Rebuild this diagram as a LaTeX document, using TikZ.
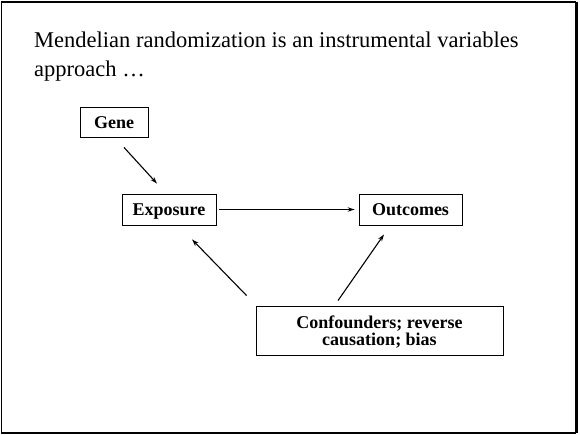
\documentclass[tikz,border=0pt]{standalone}
\usepackage{fontspec}
\setmainfont{Liberation Serif}
\usetikzlibrary{arrows.meta,positioning}
\begin{document}
\begin{tikzpicture}[x=1pt,y=-1pt,
  box/.style={draw=black,line width=0.9pt,inner sep=0pt,
    font=\fontsize{18}{17}\selectfont\bfseries,align=center},
  onerow/.style={text height=12.5pt,text depth=0pt},
  link/.style={line width=1.1pt,-{Stealth[length=7pt,width=4.5pt]}},
  frameline/.style={line width=#1}]
\useasboundingbox (0,0) rectangle (580,435);
% slide frame
\draw[frameline=2pt] (1,2) -- (576,2);
\draw[frameline=3pt] (576,2) -- (576,433);
\draw[frameline=2.2pt] (576,433) -- (1,433);
\draw[frameline=1pt] (1,433) -- (1,2);
% heading (anchored at the baseline of its second line)
\node[anchor=base west,font=\fontsize{22.5}{29}\selectfont,align=left,inner sep=0pt]
  (title) at (34,77) {Mendelian randomization is an instrumental variables\\approach …};
% nodes
\node[box,onerow,minimum width=68pt,minimum height=30pt] (gene) at (114,122) {Gene};
\node[box,onerow,minimum width=94pt,minimum height=31pt] (expo) at (169,209.5) {Exposure};
\node[box,onerow,minimum width=103pt,minimum height=31pt] (outc) at (410.5,209.5) {Outcomes};
\node[box,text depth=0pt,minimum width=247pt,minimum height=49pt] (conf) at (379.5,330.5)
  {Confounders; reverse\\causation; bias};
% connectors
\draw[link] ([shift={(10,10)}]gene.south) -- ([shift={(-12,-10)}]expo.north);
\draw[link,shorten <=3pt,shorten >=4pt] (expo.east) -- (outc.west);
\draw[link] ([shift={(-9,-10)}]conf.north west) -- ([shift={(23,14)}]expo.south);
\draw[link] ([shift={(-41.5,-5)}]conf.north) -- ([shift={(-26.5,9)}]outc.south);
\end{tikzpicture}
\end{document}
